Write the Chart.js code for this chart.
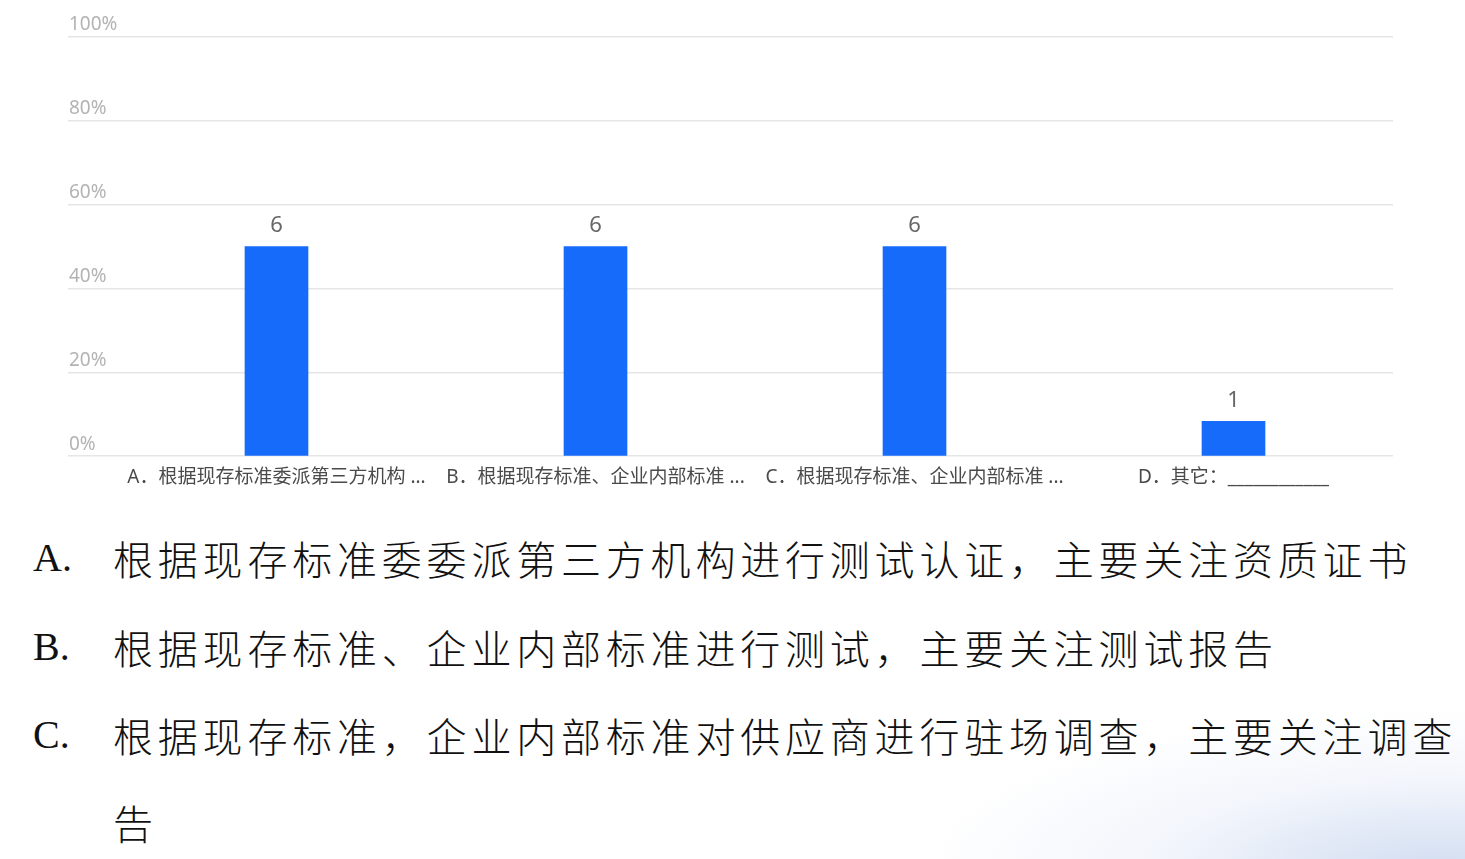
<!DOCTYPE html>
<html>
<head>
<meta charset="utf-8">
<script src="https://cdn.jsdelivr.net/npm/chart.js@4"></script>
<style>
  html, body { margin: 0; padding: 0; width: 1465px; height: 859px; overflow: hidden; }
  body {
    background:
      radial-gradient(ellipse 520px 160px at 1440px 870px, rgba(205,218,240,0.9), rgba(230,236,248,0.5) 55%, rgba(255,255,255,0) 100%),
      #ffffff;
    position: relative;
  }
  #wrap { position: absolute; left: 0; top: 0; width: 1465px; height: 500px; }
  .line {
    position: absolute; white-space: nowrap; height: 50px; line-height: 50px;
    font-family: "Noto Sans CJK SC", sans-serif; font-size: 40px; font-weight: 300; color: #111;
    letter-spacing: 4.8px;
  }
  .tag { position: absolute; left: 33px; font-family: "Liberation Serif", serif; font-weight: 400; letter-spacing: 0; }
  .txt { position: absolute; left: 113px; }
</style>
</head>
<body>
<div id="wrap"><canvas id="bargraph"></canvas></div>

<div class="line" style="top:533px"><span class="tag">A.</span><span class="txt">根据现存标准委委派第三方机构进行测试认证，主要关注资质证书</span></div>
<div class="line" style="top:622px"><span class="tag">B.</span><span class="txt">根据现存标准、企业内部标准进行测试，主要关注测试报告</span></div>
<div class="line" style="top:710px"><span class="tag">C.</span><span class="txt">根据现存标准，企业内部标准对供应商进行驻场调查，主要关注调查</span></div>
<div class="line" style="top:797px"><span class="txt">告</span></div>

<script>
const categories = [
  "A．根据现存标准委派第三方机构 ...",
  "B．根据现存标准、企业内部标准 ...",
  "C．根据现存标准、企业内部标准 ...",
  "D．其它：____________"
];
const counts = [6, 6, 6, 1];
const percents = [50, 50, 50, 8.33];
const yTicks = [0, 20, 40, 60, 80, 100];

const chartFont = '"Noto Sans", "Noto Sans CJK SC", sans-serif';

const countLabels = {
  id: "countLabels",
  afterDatasetsDraw(chart) {
    const ctx = chart.ctx;
    const meta = chart.getDatasetMeta(0);
    ctx.save();
    ctx.font = "22px " + chartFont;
    ctx.fillStyle = "#666666";
    ctx.textAlign = "center";
    ctx.textBaseline = "bottom";
    meta.data.forEach((bar, i) => {
      ctx.fillText(String(counts[i]), bar.x, bar.y - 10);
    });
    ctx.restore();
  }
};

const bargraph = document.getElementById("bargraph").getContext("2d");

new Chart(bargraph, {
  type: "bar",
  data: {
    labels: categories,
    datasets: [
      {
        data: percents,
        backgroundColor: "#166bfb",
        barThickness: 63,
        borderWidth: 0
      }
    ]
  },
  options: {
    responsive: true,
    maintainAspectRatio: false,
    animation: false,
    layout: { padding: { left: 69, right: 72, top: 37, bottom: 9 } },
    plugins: {
      legend: { display: false },
      tooltip: { enabled: false }
    },
    scales: {
      x: {
        grid: { display: false },
        border: { display: false },
        ticks: {
          autoSkip: false,
          maxRotation: 0,
          minRotation: 0,
          padding: 2,
          color: "#4a4a4a",
          font: { family: chartFont, size: 19 }
        }
      },
      y: {
        min: 0,
        max: 100,
        afterBuildTicks(scale) {
          scale.ticks = yTicks.map((v) => ({ value: v }));
        },
        afterFit(scale) {
          scale.width = 48;
        },
        border: { display: false },
        grid: { color: "#e6e6e6", lineWidth: 1.5, tickLength: 49 },
        ticks: {
          crossAlign: "far",
          labelOffset: -12,
          color: "#b3b3b3",
          font: { family: chartFont, size: 19 },
          callback: (v) => v + "%"
        }
      }
    }
  },
  plugins: [countLabels]
});
</script>
</body>
</html>
